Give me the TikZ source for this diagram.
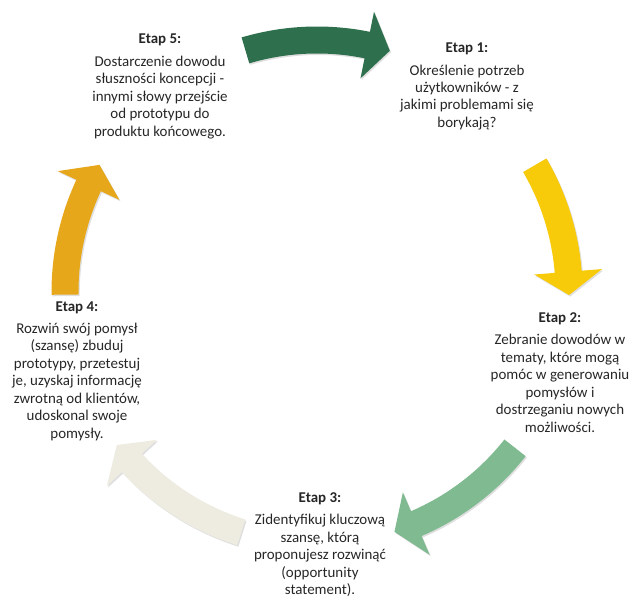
\documentclass[tikz,border=0pt]{standalone}
\usepackage{fontspec}
\setmainfont{Carlito}
\usetikzlibrary{shadows}

\definecolor{ciemnyziel}{RGB}{46,112,78}
\definecolor{zolty}{RGB}{247,202,10}
\definecolor{jasnyziel}{RGB}{128,186,144}
\definecolor{kremowy}{RGB}{238,236,225}
\definecolor{pomaranczowy}{RGB}{230,167,27}

\begin{document}
\begin{tikzpicture}[x=1bp,y=1bp]
  \tikzstyle{etap}=[align=center,inner sep=0pt,text=black!85,
    font=\fontsize{15}{17.5}\selectfont]
  \tikzstyle{strzalka}=[drop shadow={shadow xshift=1.2bp,shadow yshift=-1.5bp,opacity=0.25}]
  \useasboundingbox (0,0) rectangle (633,599);

  \coordinate (O) at (317,307);

  % strzalki po okregu: ogon, grot, kolor
  \foreach \a/\b/\kol in {106.5/73.2/ciemnyziel, 30.2/-0.7/zolty,
      -38.2/-72.1/jasnyziel, -107.5/-142.6/kremowy, 180.6/149.7/pomaranczowy}
  {
    \pgfmathsetmacro{\g}{\b+5.3}
    \fill[\kol,strzalka,shift={(O)}] (\a:265.5)
      arc[start angle=\a,end angle=\g,radius=265.5bp] -- (\g:286) -- (\b:252)
      -- (\g:218) -- (\g:238.5) arc[start angle=\g,end angle=\a,radius=238.5bp] -- cycle;
  }

  \node[etap] (etap5) at (160,512.5) {\textbf{Etap 5:}\\[5pt] Dostarczenie dowodu\\
    słuszności koncepcji -\\ innymi słowy przejście\\ od prototypu do\\ produktu końcowego.};
  \node[etap] (etap1) at (467,512.5) {\textbf{Etap 1:}\\[5pt] Określenie potrzeb\\
    użytkowników - z\\ jakimi problemami się\\ borykają?};
  \node[etap] (etap2) at (560,226.5) {\textbf{Etap 2:}\\[5pt] Zebranie dowodów w\\
    tematy, które mogą\\ pomóc w generowaniu\\ pomysłów i\\ dostrzeganiu nowych\\ możliwości.};
  \node[etap] (etap3) at (320,54.5) {\textbf{Etap 3:}\\[5pt] Zidentyfikuj kluczową\\
    szansę, którą\\ proponujesz rozwinąć\\ (opportunity\\ statement).};
  \node[etap] (etap4) at (77,228) {\textbf{Etap 4:}\\[5pt] Rozwiń swój pomysł\\
    (szansę) zbuduj\\ prototypy, przetestuj\\ je, uzyskaj informację\\
    zwrotną od klientów,\\ udoskonal swoje\\ pomysły.};
\end{tikzpicture}
\end{document}
